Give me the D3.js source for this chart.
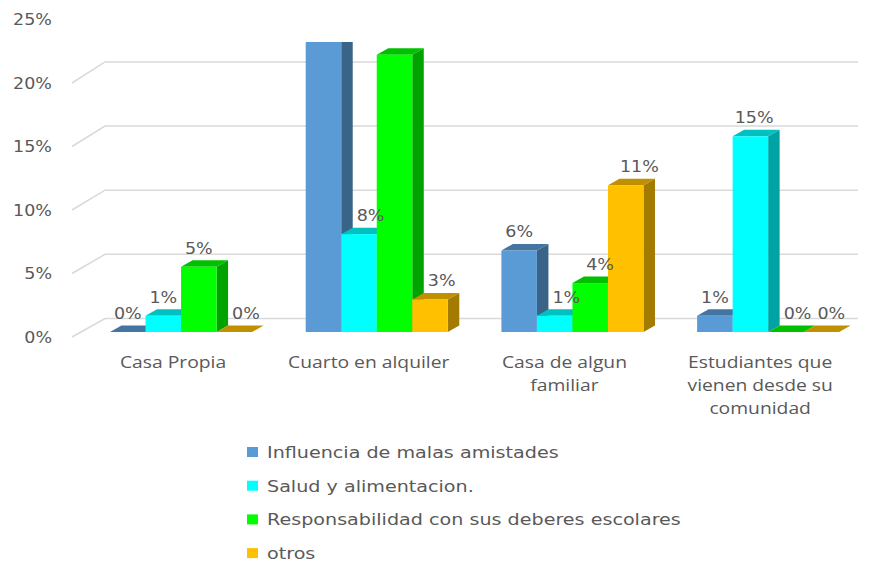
<!DOCTYPE html>
<html><head><meta charset="utf-8">
<script src="https://cdn.jsdelivr.net/npm/d3@7"></script>
<style>html,body{margin:0;padding:0;background:#fff;} svg{display:block;}</style>
</head><body>
<script>
// ---- data ----
const categories = ["Casa Propia", "Cuarto en alquiler", "Casa de algun\nfamiliar", "Estudiantes que\nvienen desde su\ncomunidad"];
const seriesNames = ["Influencia de malas amistades", "Salud y alimentacion.", "Responsabilidad con sus deberes escolares", "otros"];
const influencia = [0, 23.75, 6.25, 1.25];
const salud = [1.25, 7.5, 1.25, 15];
const responsabilidad = [5, 21.25, 3.75, 0];
const otros = [0, 2.5, 11.25, 0];
const tickValues = [0, 5, 10, 15, 20, 25];
const colors = ["#5b9bd5", "#00ffff", "#00ff00", "#ffc000"];

const seriesValues = [influencia, salud, responsabilidad, otros];

const W = 880, H = 565;
const svg = d3.select("body").append("svg").attr("width", W).attr("height", H);

const textColor = "#595959";
const SX = 1.13;       // horizontal stretch of text
const depthDx = 11.5, depthDy = -6.5; // bar depth offsets
const clipTop = 42;

// scales
const yBar = d3.scaleLinear().domain([0, 25]).range([332, 332 - 25 * 13.05]);
const yBack = d3.scaleLinear().domain([0, 25]).range([318.5, 318.5 - 25 * 12.83]);
const yFront = d3.scaleLinear().domain([0, 25]).range([337, 337 - 25 * 12.7]);
const xFrontLeft = 72, xBackLeft = 105, xBackRight = 858;

const x0 = d3.scaleBand().domain(categories).range([83.2, 866]).paddingInner(0.274).paddingOuter(0.137);
const x1 = d3.scaleBand().domain(seriesNames).range([0, x0.bandwidth()]).padding(0);

function stext(g, x, y, str, anchor, size, family, sx) {
  return g.append("text")
    .attr("transform", `translate(${x},${y}) scale(${sx || SX},1)`)
    .attr("text-anchor", anchor)
    .attr("font-family", family)
    .attr("font-size", size)
    .attr("fill", textColor)
    .text(str);
}

const defs = svg.append("defs");
defs.append("clipPath").attr("id", "plotclip").append("rect")
  .attr("x", 0).attr("y", clipTop).attr("width", W).attr("height", 310);

const plot = svg.append("g").attr("clip-path", "url(#plotclip)");

// gridlines (3D walls)
plot.append("g").selectAll("path").data(tickValues).join("path")
  .attr("d", t => `M${xFrontLeft},${yFront(t)}L${xBackLeft},${yBack(t)}L${xBackRight},${yBack(t)}`)
  .attr("fill", "none").attr("stroke", "#d9d9d9").attr("stroke-width", 1.5);

// y tick labels
const axisFont = "'DejaVu Sans', Verdana, sans-serif";
tickValues.forEach(t => {
  stext(svg, 52, yFront(t) + 5.5, t + "%", "end", 15.5, axisFont);
});

// bars
const barsG = plot.append("g");
const bars = [];
categories.forEach((c, ci) => {
  seriesNames.forEach((s, si) => {
    const v = seriesValues[si][ci];
    const x = x0(c) + x1(s), w = x1.bandwidth();
    const yv = yBar(v), yb = yBar(0);
    const col = d3.color(colors[si]);
    const g = barsG.append("g");
    g.append("path")
      .attr("d", `M${x + w},${yv}L${x + w + depthDx},${yv + depthDy}L${x + w + depthDx},${yb + depthDy}L${x + w},${yb}Z`)
      .attr("fill", col.darker(1.25).formatHex());
    g.append("path")
      .attr("d", `M${x},${yv}L${x + w},${yv}L${x + w + depthDx},${yv + depthDy}L${x + depthDx},${yv + depthDy}Z`)
      .attr("fill", col.darker(0.8).formatHex());
    if (yb - yv > 0) {
      g.append("rect").attr("x", x).attr("y", yv).attr("width", w).attr("height", yb - yv)
        .attr("fill", colors[si]);
    }
    bars.push({ci, si, v, x, w, yv});
  });
});

// data labels (labels above the plot's top edge are hidden, as in the reference)
const labelsG = plot.append("g");
categories.forEach((c, ci) => {
  let prev = null, prevLabelRight = -Infinity;
  seriesNames.forEach((s, si) => {
    const b = bars.find(d => d.ci === ci && d.si === si);
    const baseline = b.yv + depthDy - 6.5;
    if (baseline - 8 < clipTop) { prev = b; return; }
    const t = stext(labelsG, 0, 0, Math.round(b.v) + "%", "middle", 15.5, axisFont);
    const lw = t.node().getComputedTextLength() * SX;
    let cx = b.x + b.w / 2;
    let left = cx - lw / 2;
    if (prev && prev.yv < baseline) {
      left = Math.max(left, prev.x + prev.w + depthDx + 4);
    }
    left = Math.max(left, prevLabelRight + 6);
    cx = left + lw / 2;
    t.attr("transform", `translate(${cx},${baseline}) scale(${SX},1)`);
    prevLabelRight = left + lw;
    prev = b;
  });
});

// category labels
const catFont = "'Open Sans', sans-serif";
categories.forEach(c => {
  const lines = c.split("\n");
  const cx = x0(c) + x0.bandwidth() / 2 - 8;
  lines.forEach((ln, i) => {
    stext(svg, cx, 368 + i * 23, ln, "middle", 16.5, catFont, 1.17);
  });
});

// legend
const legend = svg.append("g");
seriesNames.forEach((s, i) => {
  const cy = 452 + i * 33.7;
  legend.append("rect").attr("x", 247).attr("y", cy - 5).attr("width", 11).attr("height", 10).attr("fill", colors[i]);
  stext(legend, 267, cy + 6, s, "start", 16.5, axisFont, 1.16);
});
</script>
</body></html>
